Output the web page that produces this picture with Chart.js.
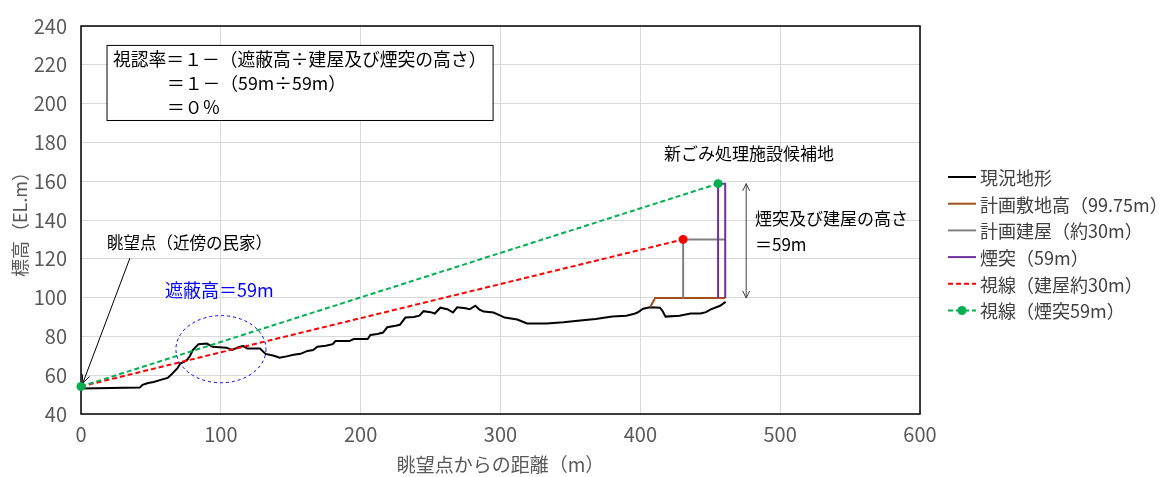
<!DOCTYPE html>
<html>
<head>
<meta charset="utf-8">
<script src="https://cdn.jsdelivr.net/npm/chart.js@4.4.1/dist/chart.umd.min.js"></script>
<style>
  body { margin: 0; background: #fff; }
</style>
</head>
<body>
<canvas id="profileChart" width="1174" height="477"></canvas>
<script>
// Terrain profile (distance from viewpoint in m, elevation EL.m)
const terrainDist = [0, 42, 44, 48, 52, 57, 62, 65, 69, 71, 74, 76, 78, 80, 84, 90, 94, 104, 108, 113,
    116, 119, 128, 132, 138, 142, 147, 152, 157, 162, 166, 169, 175, 180, 182, 192, 195, 205, 207, 212,
    216, 219, 225, 228, 232, 238, 242, 245, 250, 253, 257, 262, 266, 269, 275, 278, 282, 285, 288, 295,
    300, 303, 312, 319, 333, 345, 357, 368, 380, 390, 395, 398, 402, 407, 414, 416, 418, 428, 436, 443,
    447, 450, 457, 461];
const terrainElev = [53.2, 53.6, 55, 56, 56.5, 57.6, 58.6, 60.6, 63.6, 66, 67, 68, 70, 73, 76, 76.3, 74.7, 74.2, 73, 74.5,
    75, 73.7, 73.7, 71, 70, 69, 69.7, 70.5, 71, 72.5, 73, 74.7, 75.2, 76, 77.6, 77.6, 78.6, 78.6, 80.7, 81.2,
    82, 84.7, 85.5, 86, 89.7, 90, 90.7, 93, 92.5, 91.8, 94.8, 94, 92.3, 95, 94.5, 94, 95.8, 93.8, 92.8, 92.3,
    90.7, 89.7, 88.7, 86.7, 86.7, 87.3, 88.2, 89, 90.2, 90.7, 91.5, 92.3, 94.3, 95, 94.8, 93, 90.2, 90.7, 91.8, 91.8,
    92.5, 93.8, 95.8, 97.8];

// Planned site ground level (99.75m)
const siteDist = [407, 410.6, 460.7];
const siteElev = [95, 99.75, 99.75];

// Planned building (about 30m)
const buildingDist = [430.6, 430.6, 460.7];
const buildingElev = [99.75, 130, 130];

// Chimney (59m)
const chimneyDist = [455.6, 455.6, 460.7, 460.7];
const chimneyElev = [99.75, 158.75, 158.75, 99.75];

// Sight lines from the viewpoint
const sightBuildingDist = [0, 430.6];
const sightBuildingElev = [54.2, 130];
const sightChimneyDist = [0, 455.6];
const sightChimneyElev = [54.2, 158.75];

const seriesLabels = ['現況地形', '計画敷地高（99.75m）', '計画建屋（約30m）', '煙突（59m）', '視線（建屋約30m）', '視線（煙突59m）'];

const xTicks = [0, 100, 200, 300, 400, 500, 600];
const yTicks = [40, 60, 80, 100, 120, 140, 160, 180, 200, 220, 240];

const toPoints = (xs, ys) => xs.map((x, i) => ({ x: x, y: ys[i] }));

const cjk = "'Noto Sans CJK JP', sans-serif";
const narrow = "'Liberation Sans Narrow', 'Noto Sans CJK JP', sans-serif";

// Draw a line with an open arrow head at the end point
function arrowLine(ctx, x1, y1, x2, y2, head, both) {
    ctx.beginPath();
    ctx.moveTo(x1, y1);
    ctx.lineTo(x2, y2);
    ctx.stroke();
    const drawHead = (fx, fy, tx, ty) => {
        const a = Math.atan2(ty - fy, tx - fx);
        ctx.beginPath();
        ctx.moveTo(tx - head * Math.cos(a - 0.45), ty - head * Math.sin(a - 0.45));
        ctx.lineTo(tx, ty);
        ctx.lineTo(tx - head * Math.cos(a + 0.45), ty - head * Math.sin(a + 0.45));
        ctx.stroke();
    };
    drawHead(x1, y1, x2, y2);
    if (both) drawHead(x2, y2, x1, y1);
}

const profilePlugin = {
    id: 'profileExtras',
    beforeDatasetsDraw(chart) {
        const { ctx, chartArea: a } = chart;
        ctx.save();
        ctx.strokeStyle = '#000';
        ctx.lineWidth = 1.5;
        ctx.strokeRect(a.left, a.top, a.right - a.left, a.bottom - a.top);
        ctx.restore();
    },
    afterDraw(chart) {
        const { ctx } = chart;
        const xs = chart.scales.x, ys = chart.scales.y;
        const px = v => xs.getPixelForValue(v);
        const py = v => ys.getPixelForValue(v);

        ctx.save();

        // formula box
        ctx.fillStyle = '#fff';
        ctx.fillRect(px(18.6), py(230), px(294.7) - px(18.6), py(191.3) - py(230));
        ctx.strokeStyle = '#000';
        ctx.lineWidth = 1;
        ctx.strokeRect(px(18.6), py(230), px(294.7) - px(18.6), py(191.3) - py(230));
        ctx.fillStyle = '#000';
        ctx.font = '17.8px ' + cjk;
        ctx.textBaseline = 'middle';
        ctx.textAlign = 'left';
        ctx.fillText('視認率＝１－（遮蔽高÷建屋及び煙突の高さ）', px(22.9), py(222.9));
        ctx.fillText('＝１－（59m÷59m）', px(61.5), py(210.4));
        ctx.fillText('＝０％', px(61.5), py(198.3));

        // site labels
        ctx.font = '17px ' + cjk;
        ctx.textAlign = 'center';
        ctx.fillText('新ごみ処理施設候補地', px(477.8), py(174.2));
        ctx.textAlign = 'left';
        ctx.fillText('煙突及び建屋の高さ', px(482), py(141));
        ctx.fillText('＝59m', px(482), py(127.4));
        ctx.font = '16.5px ' + cjk;
        ctx.fillText('眺望点（近傍の民家）', px(18.6), py(128.4));

        ctx.strokeStyle = '#404040';
        ctx.lineWidth = 1;
        arrowLine(ctx, px(475.7), py(158.75), px(475.7), py(99.75), 8, true);
        ctx.strokeStyle = '#000';
        arrowLine(ctx, px(35), py(120.4), px(1.4), py(56.1), 9, false);

        // screened height
        ctx.fillStyle = '#0000ff';
        ctx.font = '18px ' + cjk;
        ctx.fillText('遮蔽高＝59m', px(60), py(103.8));
        ctx.strokeStyle = '#0000ff';
        ctx.setLineDash([3, 3]);
        ctx.beginPath();
        ctx.ellipse(px(100.1), py(73.4), px(132.3) - px(100.1), py(56.1) - py(73.4), 0, 0, Math.PI * 2);
        ctx.stroke();
        ctx.setLineDash([]);

        // legend
        const lx = 948, ly = 177, step = 26.7;
        ctx.font = '18px ' + cjk;
        chart.data.datasets.forEach((ds, i) => {
            const y = ly + i * step;
            ctx.strokeStyle = ds.borderColor;
            ctx.lineWidth = 2;
            ctx.setLineDash(ds.borderDash || []);
            ctx.beginPath();
            ctx.moveTo(lx, y);
            ctx.lineTo(lx + 28, y);
            ctx.stroke();
            ctx.setLineDash([]);
            if (ds.legendMarker) {
                ctx.fillStyle = ds.pointBackgroundColor;
                ctx.beginPath();
                ctx.arc(lx + 14, y, 4.5, 0, Math.PI * 2);
                ctx.fill();
            }
            ctx.fillStyle = '#404040';
            ctx.fillText(ds.label, lx + 32, y + 1);
        });

        ctx.restore();
    }
};

new Chart(document.getElementById('profileChart'), {
    type: 'line',
    data: {
        datasets: [{
            label: seriesLabels[0],
            data: toPoints(terrainDist, terrainElev),
            borderColor: '#000000',
            borderWidth: 2,
            pointRadius: 0,
            order: 5
        }, {
            label: seriesLabels[1],
            data: toPoints(siteDist, siteElev),
            borderColor: '#a0521e',
            borderWidth: 2,
            pointRadius: 0,
            order: 4
        }, {
            label: seriesLabels[2],
            data: toPoints(buildingDist, buildingElev),
            borderColor: '#808080',
            borderWidth: 2,
            pointRadius: 0,
            order: 3
        }, {
            label: seriesLabels[3],
            data: toPoints(chimneyDist, chimneyElev),
            borderColor: '#7030a0',
            borderWidth: 2,
            pointRadius: 0,
            order: 2
        }, {
            label: seriesLabels[4],
            data: toPoints(sightBuildingDist, sightBuildingElev),
            borderColor: '#ff0000',
            borderWidth: 2,
            borderDash: [5, 3],
            pointRadius: [0, 4.5],
            pointBackgroundColor: '#ff0000',
            pointBorderWidth: 0,
            order: 1,
            clip: false
        }, {
            label: seriesLabels[5],
            data: toPoints(sightChimneyDist, sightChimneyElev),
            borderColor: '#00b050',
            borderWidth: 2,
            borderDash: [5, 3],
            pointRadius: 4.5,
            pointBackgroundColor: '#00b050',
            pointBorderWidth: 0,
            legendMarker: true,
            order: 0,
            clip: false
        }]
    },
    options: {
        responsive: false,
        animation: false,
        layout: { padding: { top: 16, right: 254, left: 0, bottom: 0 } },
        plugins: {
            legend: { display: false },
            tooltip: { enabled: false }
        },
        scales: {
            x: {
                type: 'linear',
                min: 0,
                max: 600,
                afterBuildTicks: s => { s.ticks = xTicks.map(v => ({ value: v })); },
                afterFit: s => { s.height = 63; },
                grid: { color: '#d9d9d9', drawTicks: false },
                border: { display: false },
                ticks: { color: '#595959', padding: 8, font: { family: narrow, size: 20 } },
                title: {
                    display: true,
                    text: '眺望点からの距離（m）',
                    color: '#595959',
                    font: { family: cjk, size: 19 },
                    padding: { top: 0, bottom: 1 }
                }
            },
            y: {
                type: 'linear',
                min: 40,
                max: 240,
                afterBuildTicks: s => { s.ticks = yTicks.map(v => ({ value: v })); },
                afterFit: s => { s.width = 81; },
                grid: { color: '#d9d9d9', drawTicks: false },
                border: { display: false },
                ticks: { color: '#595959', padding: 14, font: { family: narrow, size: 20 } },
                title: {
                    display: true,
                    text: '標高（EL.m）',
                    color: '#595959',
                    font: { family: cjk, size: 18 },
                    padding: { top: 9, bottom: 0 }
                }
            }
        }
    },
    plugins: [profilePlugin]
});
</script>
</body>
</html>
